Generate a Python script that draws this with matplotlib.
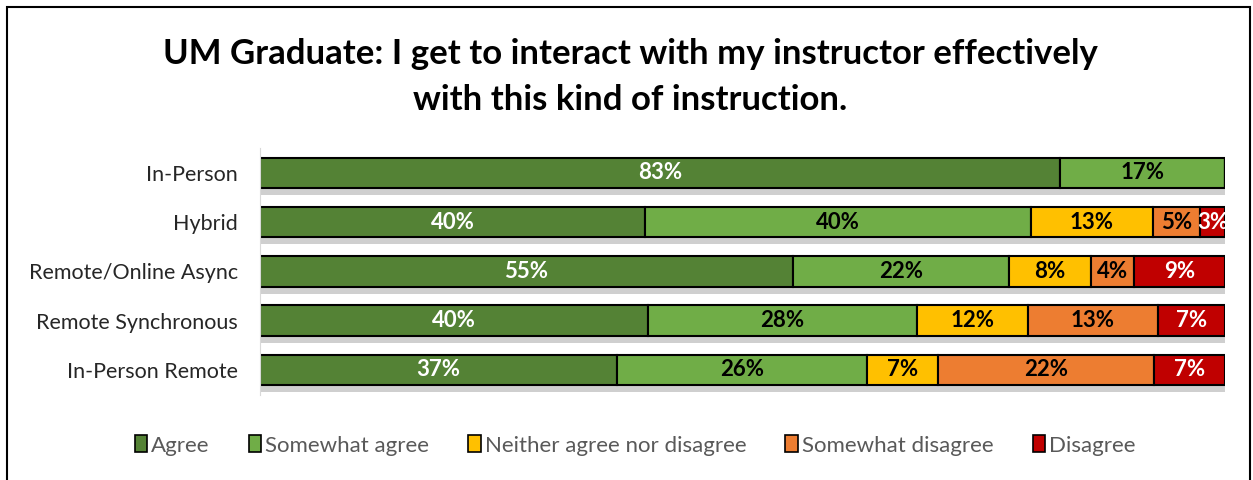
import matplotlib.pyplot as plt
import matplotlib.patheffects as pe
from matplotlib.patches import Rectangle

plt.rcParams['font.family'] = ['Lato', 'DejaVu Sans']

# data (shares)
modes = ['In-Person', 'Hybrid', 'Remote/Online Async', 'Remote Synchronous', 'In-Person Remote']
answers = ['Agree', 'Somewhat agree', 'Neither agree nor disagree', 'Somewhat disagree', 'Disagree']
agree = [82.9, 39.9, 55.2, 40.2, 37.0]
somewhat_agree = [17.1, 40.0, 22.4, 27.9, 25.9]
neither = [0.0, 12.6, 8.5, 11.5, 7.4]
somewhat_disagree = [0.0, 4.9, 4.5, 13.4, 22.3]
disagree = [0.0, 2.6, 9.4, 7.0, 7.4]

series = [agree, somewhat_agree, neither, somewhat_disagree, disagree]
colors = ['#548235', '#70AD47', '#FFC000', '#ED7D31', '#C00000']
text_colors = ['white', 'black', 'black', 'black', 'white']

fig = plt.figure(figsize=(12.53, 4.8), dpi=100)
ax = fig.add_axes([0.2075, 0.178, 0.7702, 0.513])

left = [0.0] * len(modes)
ypos = list(range(len(modes)))
shadow = [pe.SimplePatchShadow(offset=(1, -5), shadow_rgbFace='#888888', alpha=0.4), pe.Normal()]
for vals, col, tcol in zip(series, colors, text_colors):
    ax.barh(ypos, vals, left=left, height=0.62, color=col,
            edgecolor='black', linewidth=1.5, path_effects=shadow)
    for i, v in enumerate(vals):
        if v > 0:
            ax.text(left[i] + v / 2, ypos[i], f'{round(v):.0f}%', ha='center', va='center',
                    fontsize=16, fontweight='bold', color=tcol)
    left = [a + b for a, b in zip(left, vals)]

ax.set_xlim(0, 100)
ax.set_ylim(len(modes) - 0.5, -0.5)
ax.set_yticks(ypos)
ax.set_yticklabels(modes, fontsize=15.5, color='#262626')
ax.set_xticks([])
ax.tick_params(axis='y', length=0, pad=16)
for s in ['top', 'right', 'bottom']:
    ax.spines[s].set_visible(False)
ax.spines['left'].set_color('#d9d9d9')

fig.text(0.503, 0.84, 'UM Graduate: I get to interact with my instructor effectively\nwith this kind of instruction.',
         ha='center', va='center', fontsize=25, fontweight='bold', linespacing=1.55)

handles = [Rectangle((0, 0), 1, 1, facecolor=c, edgecolor='black', linewidth=1.2) for c in colors]
fig.legend(handles, answers, loc='center', bbox_to_anchor=(0.507, 0.072), ncol=5, frameon=False,
           fontsize=16, labelcolor='#595959', handlelength=0.55, handleheight=0.8,
           handletextpad=0.2, columnspacing=1.75)

fig.patches.append(Rectangle((0.0056, -0.1), 0.992, 1.085, transform=fig.transFigure,
                             fill=False, edgecolor='black', linewidth=1.5))

fig.savefig('out.png', dpi=100)
